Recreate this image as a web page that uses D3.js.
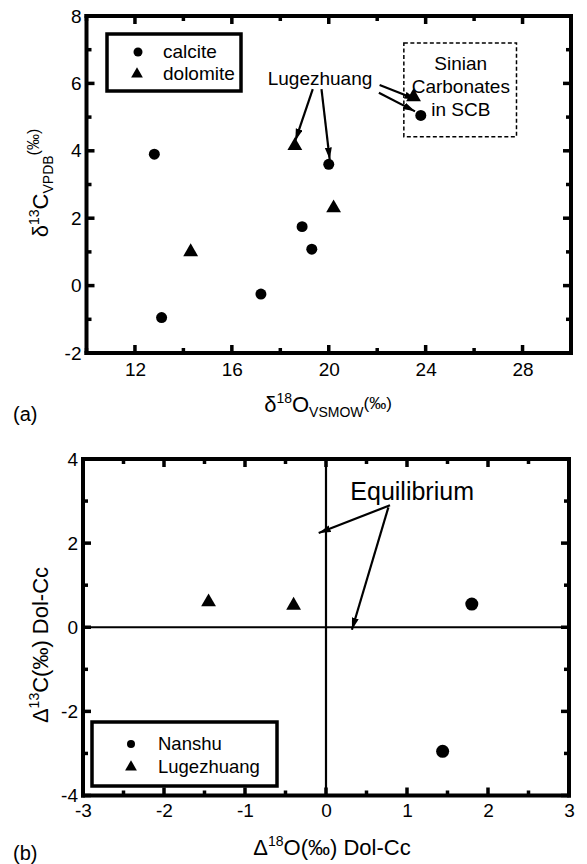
<!DOCTYPE html>
<html>
<head>
<meta charset="utf-8">
<script src="https://cdn.jsdelivr.net/npm/d3@7"></script>
<style>
  body { margin: 0; background: #fff; overflow: hidden; }
  svg { display: block; }
  svg text { font-family: "Liberation Sans", Arial, sans-serif; fill: #000; }
</style>
</head>
<body>
<svg id="chart" width="587" height="864"></svg>
<script>
// panel (a) - d18O vs d13C of the carbonates
const calciteO = [12.8, 13.1, 17.2, 18.9, 19.3, 20.0, 23.8]
const calciteC = [3.9, -0.95, -0.25, 1.75, 1.08, 3.6, 5.05]
const dolomiteO = [14.3, 18.6, 20.2, 23.5]
const dolomiteC = [1.0, 4.15, 2.3, 5.6]
const xTicksA = [12, 16, 20, 24, 28]
const yTicksA = [-2, 0, 2, 4, 6, 8]

// panel (b) - dolomite minus calcite differences
const nanshuO = [1.8, 1.44]
const nanshuC = [0.55, -2.95]
const lugeO = [-1.45, -0.4]
const lugeC = [0.6, 0.52]
const xTicksB = [-3, -2, -1, 0, 1, 2, 3]
const yTicksB = [-4, -2, 0, 2, 4]

const svg = d3.select("#chart")
const fmt = d => String(d)

// arrow head marker
svg.append("defs").append("marker")
    .attr("id", "head")
    .attr("markerUnits", "userSpaceOnUse")
    .attr("markerWidth", 13).attr("markerHeight", 8)
    .attr("refX", 12).attr("refY", 3.5)
    .attr("orient", "auto")
    .append("path")
    .attr("d", "M0,0 L12,3.5 L0,7 Z")
    .attr("fill", "#000")

//tick labels come from d3 axes, the frame and tick marks are drawn as filled bars
function frame(x, y, xMajor, yMajor, xMinor, yMinor, padX, padY) {
    const [x0, x1] = x.range()
    const [y0, y1] = y.range()
    const w = 4

    svg.append("g").attr("transform", `translate(0,${y0})`)
        .call(d3.axisBottom(x).tickValues(xMajor).tickSize(0).tickPadding(padX).tickFormat(fmt))
        .attr("font-size", 19).attr("font-family", null)
        .call(g => g.select(".domain").remove())
    svg.append("g").attr("transform", `translate(${x0},0)`)
        .call(d3.axisLeft(y).tickValues(yMajor).tickSize(0).tickPadding(padY).tickFormat(fmt))
        .attr("font-size", 19).attr("font-family", null)
        .call(g => g.select(".domain").remove())

    const bars = svg.append("g").attr("fill", "#000")
    // frame
    bars.append("rect").attr("x", x0 - w / 2).attr("y", y1 - w / 2).attr("width", x1 - x0 + w).attr("height", w)
    bars.append("rect").attr("x", x0 - w / 2).attr("y", y0 - w / 2).attr("width", x1 - x0 + w).attr("height", w)
    bars.append("rect").attr("x", x0 - w / 2).attr("y", y1 - w / 2).attr("width", w).attr("height", y0 - y1 + w)
    bars.append("rect").attr("x", x1 - w / 2).attr("y", y1 - w / 2).attr("width", w).attr("height", y0 - y1 + w)

    // ticks on all four sides, pointing inwards
    const xt = xMajor.map(v => [v, 8]).concat(xMinor.map(v => [v, 5]))
    const yt = yMajor.map(v => [v, 8]).concat(yMinor.map(v => [v, 5]))
    bars.selectAll(".tb").data(xt).join("rect").attr("class", "tb")
        .attr("x", d => x(d[0]) - 1.75).attr("y", d => y0 - d[1]).attr("width", 3.5).attr("height", d => d[1])
    bars.selectAll(".tt").data(xt).join("rect").attr("class", "tt")
        .attr("x", d => x(d[0]) - 1.75).attr("y", y1).attr("width", 3.5).attr("height", d => d[1])
    bars.selectAll(".tl").data(yt).join("rect").attr("class", "tl")
        .attr("x", x0).attr("y", d => y(d[0]) - 1.75).attr("width", d => d[1]).attr("height", 3.5)
    bars.selectAll(".tr").data(yt).join("rect").attr("class", "tr")
        .attr("x", d => x1 - d[1]).attr("y", d => y(d[0]) - 1.75).attr("width", d => d[1]).attr("height", 3.5)
}

function marks(x, y, xs, ys, type, size) {
    svg.append("g").selectAll("path")
        .data(xs.map((d, i) => [d, ys[i]]))
        .join("path")
        .attr("transform", d => `translate(${x(d[0])},${y(d[1])})`)
        .attr("d", d3.symbol().type(type).size(size))
        .attr("fill", "#000")
}

function arrow(x, y, from, to) {
    svg.append("line")
        .attr("x1", x(from[0])).attr("y1", y(from[1]))
        .attr("x2", x(to[0])).attr("y2", y(to[1]))
        .attr("stroke", "#000").attr("stroke-width", 2.2)
        .attr("marker-end", "url(#head)")
}

//rich text label with sub / superscripts
function label(x, y, rotate, parts, size) {
    const t = svg.append("text")
        .attr("transform", `translate(${x},${y}) rotate(${rotate})`)
        .attr("text-anchor", "middle")
        .attr("font-size", size)
    let shift = 0
    for (const [s, kind, fs] of parts) {
        const want = kind === "sup" ? -9 : kind === "sub" ? 5 : kind === "hi" ? -3 : 0
        t.append("tspan")
            .attr("dy", want - shift)
            .attr("font-size", fs || (kind ? 14 : size))
            .text(s)
        shift = want
    }
}

// ---------- panel (a)
const xA = d3.scaleLinear().domain([10, 30]).range([86.5, 571])
const yA = d3.scaleLinear().domain([-2, 8]).range([353, 16])

frame(xA, yA, xTicksA, yTicksA,
    d3.range(10, 31, 2).filter(d => !xTicksA.includes(d)),
    d3.range(-2, 9, 1).filter(d => !yTicksA.includes(d)), 10, 5)

marks(xA, yA, calciteO, calciteC, d3.symbolCircle, 95)
marks(xA, yA, dolomiteO, dolomiteC, d3.symbolTriangle, 95)

// legend
svg.append("rect").attr("x", 107).attr("y", 34).attr("width", 134).attr("height", 57)
    .attr("fill", "#fff").attr("stroke", "#000").attr("stroke-width", 3.5)
svg.append("circle").attr("cx", 138).attr("cy", 52).attr("r", 4.5)
svg.append("path").attr("transform", "translate(137,74)")
    .attr("d", d3.symbol().type(d3.symbolTriangle).size(60))
svg.append("text").attr("x", 163).attr("y", 58).attr("font-size", 19).text("calcite")
svg.append("text").attr("x", 163).attr("y", 80).attr("font-size", 19).text("dolomite")

// Sinian box
svg.append("rect")
    .attr("x", xA(23.1)).attr("y", yA(7.2))
    .attr("width", xA(27.75) - xA(23.1)).attr("height", yA(4.42) - yA(7.2))
    .attr("fill", "none").attr("stroke", "#000").attr("stroke-width", 1.5)
    .attr("stroke-dasharray", "4,2.5")
const sinian = ["Sinian", "Carbonates", "in SCB"]
svg.append("g").selectAll("text").data(sinian).join("text")
    .attr("x", xA(25.45)).attr("y", (d, i) => yA(6.4) + i * 23)
    .attr("text-anchor", "middle").attr("font-size", 19)
    .text(d => d)

svg.append("text").attr("x", xA(17.48)).attr("y", yA(5.95))
    .attr("font-size", 19).text("Lugezhuang")
arrow(xA, yA, [19.34, 5.83], [18.62, 4.3])
arrow(xA, yA, [19.7, 5.83], [20.04, 3.74])
arrow(xA, yA, [22.1, 5.95], [23.62, 5.52])
arrow(xA, yA, [22.07, 5.72], [23.56, 5.17])

label(48, 183, -90, [["δ"], ["13", "sup"], ["C"], ["VPDB", "sub"], ["(‰)", "sup", 16]], 22)
label(328, 412, 0, [["δ"], ["18", "sup"], ["O"], ["VSMOW", "sub"], ["(‰)", "hi", 17]], 22)
svg.append("text").attr("x", 13).attr("y", 421).attr("font-size", 20).text("(a)")

// ---------- panel (b)
const xB = d3.scaleLinear().domain([-3, 3]).range([83, 569])
const yB = d3.scaleLinear().domain([-4, 4]).range([795.5, 459])

svg.append("line").attr("x1", xB(0)).attr("x2", xB(0)).attr("y1", yB(-4)).attr("y2", yB(4))
    .attr("stroke", "#000").attr("stroke-width", 2.2)
svg.append("line").attr("x1", xB(-3)).attr("x2", xB(3)).attr("y1", yB(0)).attr("y2", yB(0))
    .attr("stroke", "#000").attr("stroke-width", 2.2)

frame(xB, yB, xTicksB, yTicksB,
    d3.range(-2.5, 3, 1),
    d3.range(-3, 4, 2), 8, 5)

marks(xB, yB, nanshuO, nanshuC, d3.symbolCircle, 133)
marks(xB, yB, lugeO, lugeC, d3.symbolTriangle, 95)

svg.append("text").attr("x", xB(0.3)).attr("y", yB(3.03))
    .attr("font-size", 25).text("Equilibrium")
arrow(xB, yB, [0.79, 2.9], [-0.09, 2.24])
arrow(xB, yB, [0.77, 2.85], [0.32, -0.06])

// legend
svg.append("rect").attr("x", 92).attr("y", 722).attr("width", 185).attr("height", 64)
    .attr("fill", "#fff").attr("stroke", "#000").attr("stroke-width", 3.5)
svg.append("circle").attr("cx", 131).attr("cy", 744).attr("r", 4)
svg.append("path").attr("transform", "translate(131,767)")
    .attr("d", d3.symbol().type(d3.symbolTriangle).size(60))
svg.append("text").attr("x", 158).attr("y", 750).attr("font-size", 18.5).text("Nanshu")
svg.append("text").attr("x", 158).attr("y", 773).attr("font-size", 18.5).text("Lugezhuang")

label(48, 645, -90, [["Δ"], ["13", "sup"], ["C(‰) Dol-Cc"]], 22)
label(332, 855, 0, [["Δ"], ["18", "sup"], ["O(‰) Dol-Cc"]], 22)
svg.append("text").attr("x", 13).attr("y", 860).attr("font-size", 20).text("(b)")
</script>
</body>
</html>
